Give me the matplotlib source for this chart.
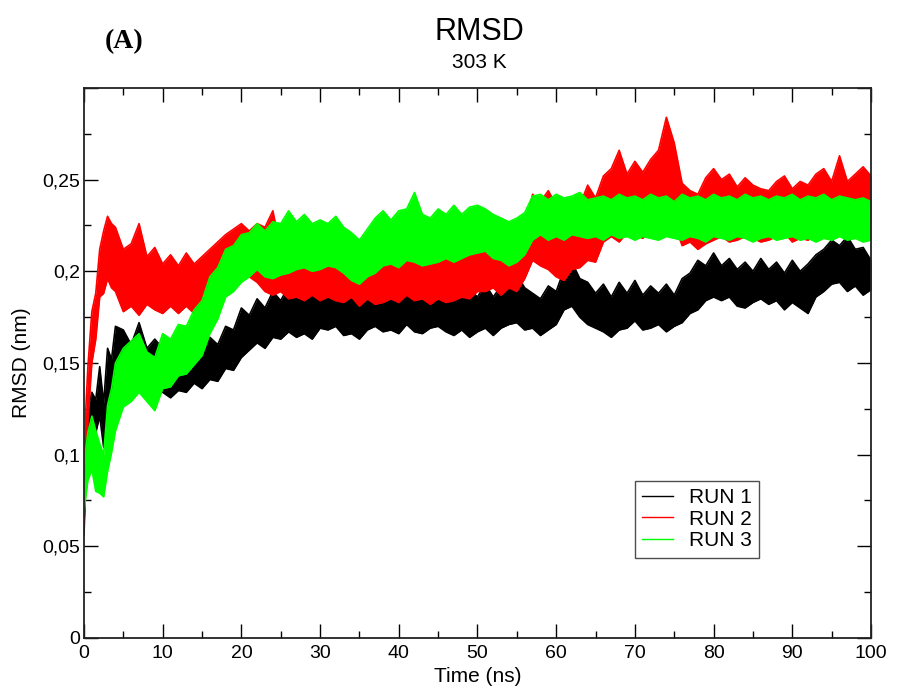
import matplotlib
matplotlib.use("Agg")
import matplotlib.pyplot as plt
from matplotlib.ticker import MultipleLocator, FuncFormatter

plt.rcParams['font.family'] = ['Liberation Sans', 'DejaVu Sans']

# time points (ns)
time_ns = [0, 0.2, 0.5, 1, 1.5, 2, 2.5, 3, 3.5] + list(range(4, 101))

# RUN 1 (black): lower / upper envelope of the noisy trace (nm)
run1_hi = [0.062, 0.108, 0.125, 0.134, 0.130, 0.148, 0.128, 0.158, 0.152,
           0.170, 0.168, 0.160, 0.172, 0.158, 0.163, 0.158, 0.150, 0.156,
           0.151, 0.158, 0.155, 0.164, 0.160, 0.170, 0.168, 0.180,
           0.176, 0.185, 0.180, 0.189, 0.184, 0.192, 0.185, 0.191, 0.186, 0.194,
           0.187, 0.192, 0.185, 0.189, 0.184, 0.193, 0.188, 0.192, 0.186, 0.193,
           0.188, 0.194, 0.186, 0.191, 0.196, 0.188, 0.192, 0.185, 0.190, 0.186,
           0.193, 0.186, 0.192, 0.190, 0.198, 0.191, 0.188, 0.185, 0.192, 0.189,
           0.201, 0.205, 0.196, 0.194, 0.188, 0.193, 0.186, 0.194, 0.188, 0.195,
           0.187, 0.192, 0.188, 0.193, 0.187, 0.196, 0.199, 0.206, 0.203, 0.210,
           0.203, 0.207, 0.201, 0.205, 0.200, 0.207, 0.201, 0.205, 0.199, 0.206,
           0.200, 0.204, 0.209, 0.212, 0.217, 0.214, 0.219, 0.212, 0.213, 0.206]
run1_lo = [0.056, 0.082, 0.098, 0.115, 0.112, 0.121, 0.104, 0.127, 0.130,
           0.140, 0.146, 0.138, 0.144, 0.133, 0.139, 0.134, 0.131, 0.135,
           0.134, 0.139, 0.136, 0.141, 0.140, 0.147, 0.146, 0.153,
           0.157, 0.161, 0.158, 0.164, 0.163, 0.167, 0.164, 0.166, 0.163, 0.169,
           0.168, 0.170, 0.165, 0.166, 0.163, 0.168, 0.170, 0.167, 0.168, 0.166,
           0.171, 0.167, 0.166, 0.169, 0.170, 0.167, 0.165, 0.168, 0.164, 0.167,
           0.169, 0.165, 0.169, 0.171, 0.172, 0.168, 0.169, 0.165, 0.168, 0.171,
           0.179, 0.181, 0.175, 0.171, 0.169, 0.167, 0.164, 0.168, 0.169, 0.173,
           0.168, 0.169, 0.171, 0.167, 0.170, 0.172, 0.177, 0.179, 0.184, 0.186,
           0.184, 0.186, 0.181, 0.180, 0.183, 0.185, 0.182, 0.184, 0.179, 0.183,
           0.180, 0.177, 0.186, 0.189, 0.193, 0.194, 0.189, 0.192, 0.187, 0.190]

# RUN 2 (red)
run2_hi = [0.070, 0.122, 0.148, 0.178, 0.188, 0.212, 0.222, 0.230, 0.226,
           0.224, 0.212, 0.215, 0.226, 0.208, 0.213, 0.204, 0.209, 0.203,
           0.210, 0.204, 0.208, 0.212, 0.216, 0.220, 0.223, 0.226,
           0.222, 0.226, 0.224, 0.233, 0.212, 0.207, 0.210, 0.205, 0.209, 0.206,
           0.204, 0.208, 0.211, 0.205, 0.207, 0.204, 0.209, 0.206, 0.208, 0.211,
           0.213, 0.208, 0.210, 0.206, 0.209, 0.212, 0.210, 0.215, 0.219, 0.213,
           0.222, 0.216, 0.218, 0.221, 0.216, 0.222, 0.242, 0.238, 0.244, 0.236,
           0.233, 0.239, 0.236, 0.247, 0.240, 0.252, 0.256, 0.266, 0.253, 0.260,
           0.254, 0.261, 0.266, 0.284, 0.270, 0.248, 0.244, 0.242, 0.251, 0.256,
           0.250, 0.253, 0.246, 0.251, 0.247, 0.245, 0.244, 0.249, 0.252, 0.245,
           0.249, 0.247, 0.253, 0.256, 0.249, 0.263, 0.249, 0.253, 0.257, 0.252]
run2_lo = [0.062, 0.092, 0.118, 0.150, 0.163, 0.186, 0.188, 0.196, 0.191,
           0.189, 0.178, 0.181, 0.176, 0.182, 0.179, 0.177, 0.181, 0.177,
           0.181, 0.177, 0.180, 0.183, 0.186, 0.191, 0.194, 0.199,
           0.197, 0.194, 0.189, 0.187, 0.189, 0.185, 0.186, 0.184, 0.187, 0.184,
           0.186, 0.184, 0.183, 0.186, 0.181, 0.185, 0.182, 0.183, 0.185, 0.183,
           0.187, 0.184, 0.185, 0.182, 0.185, 0.183, 0.184, 0.186, 0.185, 0.189,
           0.189, 0.191, 0.187, 0.191, 0.189, 0.196, 0.206, 0.203, 0.201, 0.197,
           0.195, 0.201, 0.202, 0.206, 0.205, 0.216, 0.219, 0.216, 0.221, 0.220,
           0.218, 0.223, 0.221, 0.228, 0.226, 0.214, 0.216, 0.212, 0.215, 0.217,
           0.219, 0.216, 0.217, 0.219, 0.218, 0.216, 0.217, 0.219, 0.221, 0.216,
           0.218, 0.217, 0.220, 0.221, 0.223, 0.222, 0.219, 0.223, 0.224, 0.227]

# RUN 3 (green)
run3_hi = [0.078, 0.102, 0.112, 0.121, 0.113, 0.106, 0.100, 0.127, 0.136,
           0.150, 0.158, 0.162, 0.166, 0.156, 0.153, 0.166, 0.163, 0.171,
           0.170, 0.179, 0.184, 0.197, 0.202, 0.212, 0.214, 0.220,
           0.221, 0.226, 0.222, 0.227, 0.226, 0.233, 0.227, 0.231, 0.226, 0.228,
           0.226, 0.230, 0.224, 0.221, 0.217, 0.223, 0.229, 0.233, 0.228, 0.233,
           0.234, 0.243, 0.231, 0.229, 0.234, 0.231, 0.236, 0.231, 0.235, 0.236,
           0.234, 0.231, 0.229, 0.227, 0.229, 0.232, 0.241, 0.242, 0.239, 0.242,
           0.240, 0.241, 0.243, 0.239, 0.240, 0.241, 0.239, 0.242, 0.240, 0.241,
           0.239, 0.242, 0.240, 0.241, 0.238, 0.242, 0.240, 0.241, 0.239, 0.242,
           0.240, 0.241, 0.239, 0.242, 0.240, 0.241, 0.239, 0.241, 0.240, 0.242,
           0.239, 0.241, 0.240, 0.242, 0.239, 0.241, 0.240, 0.239, 0.240, 0.238]
run3_lo = [0.068, 0.076, 0.086, 0.092, 0.080, 0.079, 0.077, 0.091, 0.101,
           0.113, 0.126, 0.129, 0.134, 0.129, 0.124, 0.136, 0.137, 0.143,
           0.144, 0.149, 0.154, 0.166, 0.174, 0.186, 0.189, 0.194,
           0.197, 0.201, 0.197, 0.196, 0.198, 0.199, 0.201, 0.202, 0.200, 0.201,
           0.203, 0.202, 0.199, 0.195, 0.193, 0.197, 0.199, 0.203, 0.204, 0.202,
           0.206, 0.205, 0.203, 0.204, 0.205, 0.207, 0.205, 0.207, 0.209, 0.210,
           0.211, 0.207, 0.206, 0.203, 0.205, 0.209, 0.217, 0.220, 0.217, 0.219,
           0.217, 0.220, 0.219, 0.218, 0.219, 0.217, 0.220, 0.218, 0.219, 0.217,
           0.219, 0.218, 0.217, 0.219, 0.218, 0.217, 0.219, 0.218, 0.216, 0.219,
           0.218, 0.217, 0.219, 0.218, 0.216, 0.218, 0.219, 0.217, 0.218, 0.219,
           0.217, 0.218, 0.216, 0.218, 0.217, 0.219, 0.217, 0.218, 0.216, 0.217]

series = [("RUN 1", run1_lo, run1_hi, "#000000"),
          ("RUN 2", run2_lo, run2_hi, "#ff0000"),
          ("RUN 3", run3_lo, run3_hi, "#00ff00")]

fig = plt.figure(figsize=(9, 6.9), dpi=100)
ax = fig.add_axes([0.0933, 0.0754, 0.8745, 0.7971])

for k, (name, lo, hi, c) in enumerate(series):
    z = 2 + k
    ax.fill_between(time_ns, lo, hi, color=c, lw=0, zorder=z)
    ax.plot(time_ns, hi, color=c, lw=1.2, label=name, zorder=z)
    ax.plot(time_ns, lo, color=c, lw=1.2, zorder=z)

ax.set_xlim(0, 100)
ax.set_ylim(0, 0.3)
ax.xaxis.set_major_locator(MultipleLocator(10))
ax.xaxis.set_minor_locator(MultipleLocator(5))
ax.yaxis.set_major_locator(MultipleLocator(0.05))
ax.yaxis.set_minor_locator(MultipleLocator(0.025))

def comma_fmt(v, pos):
    if abs(v) < 1e-9:
        return "0"
    if v > 0.29:
        return ""
    return ("%g" % round(v, 4)).replace(".", ",")

ax.yaxis.set_major_formatter(FuncFormatter(comma_fmt))
ax.tick_params(which='both', direction='in', top=True, right=True,
               labelsize=14, colors='#000000', width=1.0)
ax.tick_params(which='major', length=10)
ax.tick_params(axis='x', which='major', pad=5)
ax.tick_params(axis='y', which='major', pad=3)
ax.tick_params(which='minor', length=5)
for s in ax.spines.values():
    s.set_linewidth(1.3)
    s.set_color('#222222')
    s.set_zorder(10)

ax.set_xlabel("Time (ns)", fontsize=15, labelpad=4)
ax.set_ylabel("RMSD (nm)", fontsize=15, labelpad=8)

fig.text(0.533, 0.953, "RMSD", ha='center', va='center', fontsize=22)
fig.text(0.533, 0.91, "303 K", ha='center', va='center', fontsize=15)
fig.text(0.138, 0.94, "(A)", ha='center', va='center', fontsize=20,
         fontweight='bold', family=['Liberation Serif', 'DejaVu Serif'])

leg = ax.legend(loc='upper left', bbox_to_anchor=(0.700, 0.2855),
                frameon=True, fancybox=False, fontsize=15,
                handlelength=1.5, handletextpad=0.75, borderpad=0.35,
                labelspacing=0.12, borderaxespad=0)
leg.set_zorder(20)
leg.get_frame().set_edgecolor('#222222')
leg.get_frame().set_linewidth(1.0)
for line in leg.get_lines():
    line.set_linewidth(1.0)

fig.savefig("out.png", dpi=100)
